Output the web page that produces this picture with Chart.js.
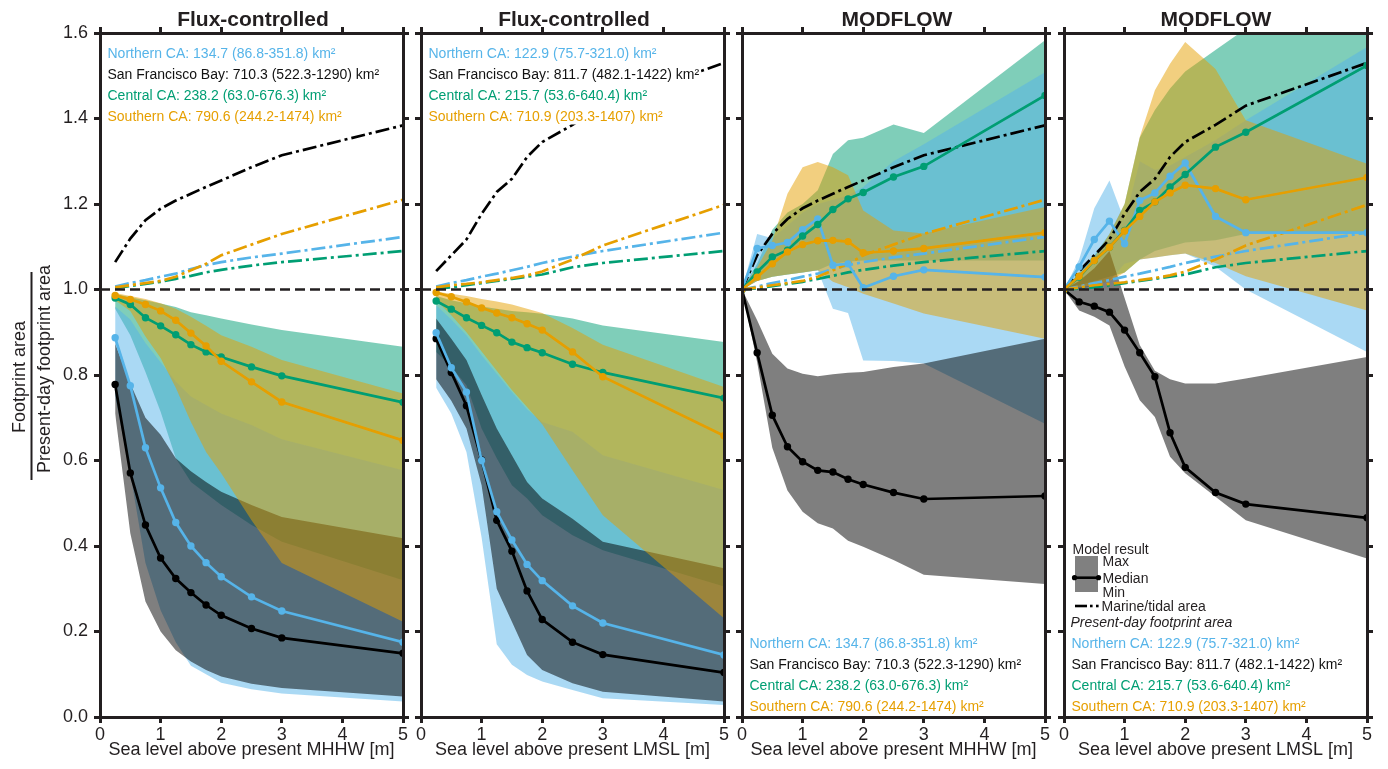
<!DOCTYPE html>
<html><head><meta charset="utf-8">
<script src="https://cdn.jsdelivr.net/npm/chart.js@4.4.0/dist/chart.umd.min.js"></script>
<style>
html,body{margin:0;padding:0;background:#fff;}
#wrap{position:relative;width:1388px;height:769px;overflow:hidden;background:#fff;}
canvas{position:absolute;left:0;top:0;}
</style></head><body>
<div id="wrap">
<canvas id="c1" width="1388" height="769"></canvas>
<canvas id="c2" width="1388" height="769"></canvas>
<canvas id="c3" width="1388" height="769"></canvas>
<canvas id="c4" width="1388" height="769"></canvas>
</div>
<script>
// ---------- axes / categories ----------
const xFlux = [0.25, 0.5, 0.75, 1, 1.25, 1.5, 1.75, 2, 2.5, 3, 5];
const xMod  = [0, 0.25, 0.5, 0.75, 1, 1.25, 1.5, 1.75, 2, 2.5, 3, 5];
const xTickValues = [0, 1, 2, 3, 4, 5];
const yTickValues = [0, 0.2, 0.4, 0.6, 0.8, 1.0, 1.2, 1.4, 1.6];
const refX = [0, 5];
const refY = [1, 1];

// ---------- Panel 1: Flux-controlled, MHHW ----------
const f1NorthMed = [0.887, 0.775, 0.63, 0.536, 0.455, 0.40, 0.361, 0.328, 0.281, 0.248, 0.175];
const f1NorthMax = [0.96, 0.93, 0.875, 0.83, 0.785, 0.75, 0.73, 0.71, 0.683, 0.65, 0.577];
const f1NorthMin = [0.75, 0.57, 0.36, 0.25, 0.175, 0.12, 0.10, 0.08, 0.065, 0.055, 0.036];
const f1SfMed = [0.778, 0.571, 0.449, 0.372, 0.324, 0.291, 0.262, 0.238, 0.207, 0.185, 0.149];
const f1SfMax = [0.873, 0.78, 0.70, 0.66, 0.605, 0.575, 0.55, 0.527, 0.496, 0.468, 0.418];
const f1SfMin = [0.71, 0.43, 0.27, 0.20, 0.156, 0.13, 0.11, 0.095, 0.078, 0.068, 0.048];
const f1CentralMed = [0.98, 0.965, 0.934, 0.915, 0.894, 0.871, 0.854, 0.842, 0.819, 0.798, 0.736];
const f1CentralMax = [0.99, 0.982, 0.975, 0.967, 0.959, 0.947, 0.94, 0.932, 0.918, 0.905, 0.866];
const f1CentralMin = [0.955, 0.893, 0.807, 0.714, 0.605, 0.55, 0.523, 0.496, 0.449, 0.41, 0.32];
const f1SouthMed = [0.986, 0.977, 0.965, 0.95, 0.928, 0.898, 0.868, 0.832, 0.784, 0.737, 0.647];
const f1SouthMax = [0.992, 0.985, 0.978, 0.968, 0.955, 0.936, 0.915, 0.893, 0.866, 0.835, 0.757];
const f1SouthMin = [0.975, 0.95, 0.89, 0.84, 0.77, 0.69, 0.62, 0.57, 0.46, 0.36, 0.223];
// marine / tidal area (MHHW)
const mhhwMarNorth   = [1.007, 1.015, 1.022, 1.03, 1.037, 1.048, 1.057, 1.064, 1.075, 1.084, 1.123];
const mhhwMarSf      = [1.064, 1.119, 1.162, 1.189, 1.208, 1.224, 1.24, 1.255, 1.286, 1.314, 1.384];
const mhhwMarCentral = [1.003, 1.008, 1.013, 1.018, 1.025, 1.032, 1.04, 1.046, 1.056, 1.064, 1.09];
const mhhwMarSouth   = [1.005, 1.01, 1.015, 1.02, 1.03, 1.045, 1.06, 1.08, 1.105, 1.13, 1.21];

// ---------- Panel 2: Flux-controlled, LMSL ----------
const f2NorthMed = [0.899, 0.817, 0.76, 0.60, 0.48, 0.414, 0.357, 0.319, 0.26, 0.22, 0.145];
const f2NorthMax = [0.963, 0.93, 0.893, 0.846, 0.803, 0.76, 0.72, 0.69, 0.667, 0.612, 0.531];
const f2NorthMin = [0.77, 0.71, 0.62, 0.42, 0.17, 0.122, 0.098, 0.083, 0.063, 0.044, 0.028];
const f2SfMed = [0.885, 0.806, 0.728, 0.601, 0.46, 0.388, 0.295, 0.228, 0.175, 0.146, 0.104];
const f2SfMax = [0.932, 0.885, 0.835, 0.753, 0.675, 0.612, 0.55, 0.511, 0.464, 0.41, 0.348];
const f2SfMin = [0.79, 0.74, 0.675, 0.542, 0.30, 0.223, 0.145, 0.11, 0.079, 0.059, 0.036];
const f2CentralMed = [0.973, 0.954, 0.934, 0.916, 0.899, 0.877, 0.864, 0.852, 0.825, 0.806, 0.746];
const f2CentralMax = [0.985, 0.975, 0.968, 0.96, 0.955, 0.95, 0.947, 0.943, 0.932, 0.916, 0.877];
const f2CentralMin = [0.854, 0.819, 0.776, 0.675, 0.605, 0.542, 0.511, 0.472, 0.425, 0.39, 0.305];
const f2SouthMed = [0.993, 0.983, 0.971, 0.957, 0.945, 0.934, 0.92, 0.905, 0.854, 0.796, 0.658];
const f2SouthMax = [0.995, 0.99, 0.985, 0.978, 0.972, 0.965, 0.955, 0.945, 0.91, 0.871, 0.772];
const f2SouthMin = [0.975, 0.94, 0.9, 0.855, 0.81, 0.765, 0.725, 0.685, 0.577, 0.472, 0.231];
// marine / tidal area (LMSL)
const lmslMarNorth   = [1.007, 1.015, 1.022, 1.03, 1.037, 1.045, 1.053, 1.062, 1.077, 1.09, 1.133];
const lmslMarSf      = [1.043, 1.08, 1.117, 1.177, 1.228, 1.259, 1.31, 1.345, 1.385, 1.43, 1.53];
const lmslMarCentral = [1.002, 1.005, 1.01, 1.015, 1.02, 1.025, 1.03, 1.035, 1.052, 1.062, 1.09];
const lmslMarSouth   = [1.005, 1.01, 1.013, 1.017, 1.022, 1.027, 1.033, 1.042, 1.07, 1.103, 1.198];
// MODFLOW panels start from the present-day value at 0 m
const mhhwMarNorth0   = [1.0, 1.007, 1.015, 1.022, 1.03, 1.037, 1.048, 1.057, 1.064, 1.075, 1.084, 1.123];
const mhhwMarSf0      = [1.0, 1.08, 1.13, 1.165, 1.19, 1.208, 1.224, 1.24, 1.255, 1.286, 1.314, 1.384];
const mhhwMarCentral0 = [1.0, 1.003, 1.008, 1.013, 1.018, 1.025, 1.032, 1.04, 1.046, 1.056, 1.064, 1.09];
const mhhwMarSouth0   = [1.0, 1.005, 1.01, 1.015, 1.02, 1.03, 1.045, 1.06, 1.08, 1.105, 1.13, 1.21];
const lmslMarNorth0   = [1.0, 1.007, 1.015, 1.022, 1.03, 1.037, 1.045, 1.053, 1.062, 1.077, 1.09, 1.133];
const lmslMarSf0      = [1.0, 1.043, 1.08, 1.117, 1.177, 1.228, 1.259, 1.31, 1.345, 1.385, 1.43, 1.53];
const lmslMarCentral0 = [1.0, 1.002, 1.005, 1.01, 1.015, 1.02, 1.025, 1.03, 1.035, 1.052, 1.062, 1.09];
const lmslMarSouth0   = [1.0, 1.005, 1.01, 1.013, 1.017, 1.022, 1.027, 1.033, 1.042, 1.07, 1.103, 1.198];

// ---------- Panel 3: MODFLOW, MHHW ----------
const m3NorthMed = [1.0, 1.096, 1.103, 1.11, 1.14, 1.165, 1.057, 1.06, 1.004, 1.031, 1.046, 1.029];
const m3NorthMax = [1.0, 1.13, 1.12, 1.15, 1.18, 1.2, 1.21, 1.22, 1.24, 1.30, 1.34, 1.508];
const m3NorthMin = [1.0, 1.02, 1.03, 1.035, 1.04, 1.045, 0.955, 0.945, 0.834, 0.833, 0.827, 0.686];
const m3SfMed = [1.0, 0.852, 0.706, 0.632, 0.597, 0.577, 0.573, 0.556, 0.544, 0.525, 0.51, 0.517];
const m3SfMax = [1.0, 0.928, 0.85, 0.815, 0.803, 0.797, 0.802, 0.805, 0.807, 0.819, 0.827, 0.885];
const m3SfMin = [1.0, 0.83, 0.63, 0.53, 0.48, 0.453, 0.441, 0.412, 0.398, 0.367, 0.333, 0.311];
const m3CentralMed = [1.0, 1.041, 1.076, 1.092, 1.125, 1.152, 1.187, 1.212, 1.227, 1.263, 1.288, 1.454];
const m3CentralMax = [1.0, 1.06, 1.14, 1.18, 1.2, 1.232, 1.317, 1.349, 1.355, 1.386, 1.366, 1.583];
const m3CentralMin = [1.0, 1.02, 1.03, 1.035, 1.04, 1.045, 1.06, 1.065, 1.068, 1.068, 1.068, 1.068];
const m3SouthMed = [1.0, 1.029, 1.06, 1.088, 1.105, 1.114, 1.115, 1.112, 1.086, 1.09, 1.096, 1.133];
const m3SouthMax = [1.0, 1.052, 1.114, 1.224, 1.286, 1.298, 1.286, 1.267, 1.185, 1.138, 1.131, 1.193];
const m3SouthMin = [1.0, 1.02, 1.03, 1.035, 1.04, 1.045, 1.018, 1.005, 0.99, 0.967, 0.944, 0.885];

// ---------- Panel 4: MODFLOW, LMSL ----------
const m4NorthMed = [1.0, 1.053, 1.117, 1.16, 1.107, 1.208, 1.226, 1.265, 1.296, 1.171, 1.133, 1.133];
const m4NorthMax = [1.0, 1.07, 1.19, 1.255, 1.16, 1.3, 1.28, 1.29, 1.31, 1.35, 1.396, 1.567];
const m4NorthMin = [1.0, 1.0, 1.01, 1.02, 1.06, 1.07, 1.075, 1.08, 1.084, 1.053, 1.0, 0.854];
const m4SfMed = [1.0, 0.971, 0.961, 0.947, 0.905, 0.852, 0.796, 0.665, 0.584, 0.525, 0.498, 0.466];
const m4SfMax = [1.0, 1.02, 1.05, 1.09, 0.98, 0.87, 0.81, 0.79, 0.78, 0.78, 0.792, 0.842];
const m4SfMin = [1.0, 0.951, 0.936, 0.916, 0.82, 0.741, 0.702, 0.609, 0.57, 0.515, 0.46, 0.371];
const m4CentralMed = [1.0, 1.029, 1.068, 1.099, 1.138, 1.185, 1.205, 1.24, 1.269, 1.333, 1.368, 1.524];
const m4CentralMax = [1.0, 1.04, 1.08, 1.13, 1.2, 1.355, 1.42, 1.47, 1.51, 1.56, 1.61, 1.65];
const m4CentralMin = [1.0, 1.01, 1.02, 1.03, 1.04, 1.07, 1.09, 1.1, 1.11, 1.115, 1.13, 1.13];
const m4SouthMed = [1.0, 1.031, 1.068, 1.099, 1.137, 1.171, 1.205, 1.226, 1.244, 1.236, 1.21, 1.262];
const m4SouthMax = [1.0, 1.03, 1.075, 1.13, 1.2, 1.357, 1.466, 1.528, 1.579, 1.516, 1.396, 1.294];
const m4SouthMin = [1.0, 1.005, 1.01, 1.02, 1.04, 1.07, 1.075, 1.08, 1.084, 1.062, 1.031, 0.951];

// ---------- texts ----------
const panelTitles = ['Flux-controlled', 'Flux-controlled', 'MODFLOW', 'MODFLOW'];
const xAxisTitles = ['Sea level above present MHHW [m]', 'Sea level above present LMSL [m]',
                     'Sea level above present MHHW [m]', 'Sea level above present LMSL [m]'];
const areaTextMHHW = ['Northern CA: 134.7 (86.8-351.8) km²', 'San Francisco Bay: 710.3 (522.3-1290) km²',
                      'Central CA: 238.2 (63.0-676.3) km²', 'Southern CA: 790.6 (244.2-1474) km²'];
const areaTextLMSL = ['Northern CA: 122.9 (75.7-321.0) km²', 'San Francisco Bay: 811.7 (482.1-1422) km²',
                      'Central CA: 215.7 (53.6-640.4) km²', 'Southern CA: 710.9 (203.3-1407) km²'];
const legendTexts = ['Model result', 'Max', 'Median', 'Min', 'Marine/tidal area', 'Present-day footprint area'];
const yTitleTop = 'Footprint area';
const yTitleBottom = 'Present-day footprint area';

// ---------- styling ----------
const INK = '#231F20';
const FONT = "'Liberation Sans', Arial, Helvetica, sans-serif";
const COL = {north: '#56B4E9', sf: '#000000', central: '#009E73', south: '#E69F00'};
const FILL = {north: 'rgba(86,180,233,0.5)', sf: 'rgba(0,0,0,0.5)', central: 'rgba(0,158,115,0.5)', south: 'rgba(230,159,0,0.5)'};
const AREA_COLORS = [COL.north, '#111111', COL.central, COL.south];
const TOP = 33, BOTTOM = 717, PW = 303, W = 1388, H = 769;

function pts(xs, ys) { return xs.map((x, i) => ({x: x, y: ys[i]})); }
function band(xs, max, min, key, order) {
  return [
    {data: pts(xs, max), borderWidth: 0, borderColor: 'rgba(0,0,0,0)', pointRadius: 0, fill: false, order: order, tension: 0},
    {data: pts(xs, min), borderWidth: 0, borderColor: 'rgba(0,0,0,0)', pointRadius: 0, fill: '-1', backgroundColor: FILL[key], order: order, tension: 0}
  ];
}
function median(xs, ys, key, order) {
  return {data: pts(xs, ys), borderColor: COL[key], borderWidth: 2.7, pointRadius: 3.7, pointHoverRadius: 3.7,
          pointBackgroundColor: COL[key], pointBorderWidth: 0, fill: false, order: order, tension: 0};
}
function marine(xs, ys, key, order) {
  return {data: pts(xs, ys), borderColor: COL[key], borderWidth: 2.7, borderDash: [14, 4, 3, 4], pointRadius: 0,
          fill: false, order: order, tension: 0};
}

const panels = [
  {id: 'c1', left: 100, titleX: 253, xs: xFlux, yLabels: true, texts: areaTextMHHW, textPos: 'top',
   n: [f1NorthMax, f1NorthMin, f1NorthMed], c: [f1CentralMax, f1CentralMin, f1CentralMed],
   s: [f1SfMax, f1SfMin, f1SfMed], o: [f1SouthMax, f1SouthMin, f1SouthMed],
   mar: [mhhwMarNorth, mhhwMarSf, mhhwMarCentral, mhhwMarSouth]},
  {id: 'c2', left: 421, titleX: 574, xs: xFlux, yLabels: false, texts: areaTextLMSL, textPos: 'top',
   n: [f2NorthMax, f2NorthMin, f2NorthMed], c: [f2CentralMax, f2CentralMin, f2CentralMed],
   s: [f2SfMax, f2SfMin, f2SfMed], o: [f2SouthMax, f2SouthMin, f2SouthMed],
   mar: [lmslMarNorth, lmslMarSf, lmslMarCentral, lmslMarSouth]},
  {id: 'c3', left: 742, titleX: 897, xs: xMod, yLabels: false, texts: areaTextMHHW, textPos: 'bottom',
   n: [m3NorthMax, m3NorthMin, m3NorthMed], c: [m3CentralMax, m3CentralMin, m3CentralMed],
   s: [m3SfMax, m3SfMin, m3SfMed], o: [m3SouthMax, m3SouthMin, m3SouthMed],
   mar: [mhhwMarNorth0, mhhwMarSf0, mhhwMarCentral0, mhhwMarSouth0]},
  {id: 'c4', left: 1064, titleX: 1216, xs: xMod, yLabels: false, texts: areaTextLMSL, textPos: 'bottom', legend: true,
   n: [m4NorthMax, m4NorthMin, m4NorthMed], c: [m4CentralMax, m4CentralMin, m4CentralMed],
   s: [m4SfMax, m4SfMin, m4SfMed], o: [m4SouthMax, m4SouthMin, m4SouthMed],
   mar: [lmslMarNorth0, lmslMarSf0, lmslMarCentral0, lmslMarSouth0]}
];

function textPlugin(p, idx) {
  return {
    id: 'txt' + idx,
    afterDatasetsDraw(chart) {
      const ctx = chart.ctx;
      ctx.save();
      ctx.font = '14px ' + FONT;
      ctx.textBaseline = 'alphabetic';
      ctx.textAlign = 'left';
      const base = p.textPos === 'top' ? [57.5, 78.5, 99.5, 120.5] : [647.5, 669, 690, 711];
      const x = p.left + 7.5;
      let maxW = 0;
      p.texts.forEach(t => { maxW = Math.max(maxW, ctx.measureText(t).width); });
      ctx.fillStyle = '#ffffff';
      ctx.fillRect(x - 2, base[0] - 13, maxW + 4, base[3] - base[0] + 17);
      p.texts.forEach((t, i) => { ctx.fillStyle = AREA_COLORS[i]; ctx.fillText(t, x, base[i]); });
      ctx.restore();
    },
    afterDraw(chart) {
      const ctx = chart.ctx;
      ctx.save();
      ctx.fillStyle = INK;
      ctx.font = 'bold 21px ' + FONT;
      ctx.textAlign = 'center';
      ctx.textBaseline = 'alphabetic';
      ctx.fillText(panelTitles[idx], p.titleX, 25.5);
      if (idx === 0) {
        ctx.font = '18px ' + FONT;
        ctx.save();
        ctx.translate(25, 377);
        ctx.rotate(-Math.PI / 2);
        ctx.textAlign = 'center';
        ctx.fillText(yTitleTop, 0, 0);
        ctx.restore();
        ctx.save();
        ctx.translate(49.5, 369);
        ctx.rotate(-Math.PI / 2);
        ctx.textAlign = 'center';
        ctx.fillText(yTitleBottom, 0, 0);
        ctx.restore();
        ctx.strokeStyle = INK;
        ctx.lineWidth = 2;
        ctx.beginPath();
        ctx.moveTo(31.5, 272);
        ctx.lineTo(31.5, 480);
        ctx.stroke();
      }
      if (p.legend) {
        const lx = 1072.5;
        ctx.textAlign = 'left';
        ctx.fillStyle = INK;
        ctx.font = '14px ' + FONT;
        ctx.fillText(legendTexts[0], lx, 553.5);
        ctx.fillStyle = '#808080';
        ctx.fillRect(1075, 556, 23, 36);
        ctx.fillStyle = INK;
        ctx.fillText(legendTexts[1], 1102.5, 566);
        ctx.fillText(legendTexts[2], 1102.5, 583);
        ctx.fillText(legendTexts[3], 1102.5, 597);
        ctx.strokeStyle = '#000';
        ctx.lineWidth = 2.6;
        ctx.beginPath(); ctx.moveTo(1074, 577.7); ctx.lineTo(1099, 577.7); ctx.stroke();
        ctx.fillStyle = '#000';
        [1074.5, 1098.5].forEach(cx => { ctx.beginPath(); ctx.arc(cx, 577.7, 2.6, 0, Math.PI * 2); ctx.fill(); });
        ctx.beginPath(); ctx.moveTo(1075, 606); ctx.lineTo(1087, 606); ctx.stroke();
        ctx.fillRect(1090, 604.7, 2.6, 2.6);
        ctx.fillRect(1096, 604.7, 2.6, 2.6);
        ctx.fillStyle = INK;
        ctx.fillText(legendTexts[4], 1101.5, 611);
        ctx.font = 'italic 14px ' + FONT;
        ctx.fillText(legendTexts[5], 1070.5, 627);
      }
      ctx.restore();
    }
  };
}

panels.forEach((p, idx) => {
  const xs = p.xs;
  const datasets = [];
  datasets.push({data: pts(refX, refY), borderColor: INK, borderWidth: 2.5, borderDash: [10, 5], pointRadius: 0, fill: false, order: 1});
  // fill stacking (bottom to top): central, north, SF Bay, southern
  datasets.push(...band(xs, p.c[0], p.c[1], 'central', 40));
  datasets.push(...band(xs, p.n[0], p.n[1], 'north', 30));
  datasets.push(...band(xs, p.s[0], p.s[1], 'sf', 20));
  datasets.push(...band(xs, p.o[0], p.o[1], 'south', 10));
  datasets.push(marine(xs, p.mar[2], 'central', 9));
  datasets.push(marine(xs, p.mar[0], 'north', 8));
  datasets.push(marine(xs, p.mar[3], 'south', 7));
  datasets.push(marine(xs, p.mar[1], 'sf', 6));
  datasets.push(median(xs, p.s[2], 'sf', 5));
  datasets.push(median(xs, p.n[2], 'north', 4));
  datasets.push(median(xs, p.c[2], 'central', 3));
  datasets.push(median(xs, p.o[2], 'south', 2));

  const gridOpt = () => ({drawOnChartArea: false, drawTicks: true, tickLength: 6, lineWidth: 3, color: INK, z: 1});
  const borderOpt = () => ({display: true, width: 3, color: INK, z: 1});
  const setX = s => { s.ticks = xTickValues.map(v => ({value: v})); };
  const setY = s => { s.ticks = yTickValues.map(v => ({value: v})); };
  const yW = p.yLabels ? 60 : 8;

  new Chart(document.getElementById(p.id), {
    type: 'line',
    data: {datasets: datasets},
    plugins: [textPlugin(p, idx)],
    options: {
      responsive: false, animation: false, devicePixelRatio: 1,
      events: [],
      layout: {padding: {left: p.left - yW, right: W - (p.left + PW) - 8, top: TOP - 8, bottom: H - BOTTOM - 44}},
      plugins: {legend: {display: false}, title: {display: false}, tooltip: {enabled: false}},
      scales: {
        x: {type: 'linear', position: 'bottom', min: 0, max: 5, afterBuildTicks: setX,
            grid: gridOpt(), border: borderOpt(),
            ticks: {color: INK, font: {family: FONT, size: 18}, padding: 1, maxRotation: 0, autoSkip: false},
            title: {display: true, text: xAxisTitles[idx], color: INK, font: {family: FONT, size: 18}, padding: {top: 0, bottom: 0}},
            afterFit: s => { s.height = 44; }},
        xTop: {type: 'linear', axis: 'x', position: 'top', min: 0, max: 5, afterBuildTicks: setX,
            grid: gridOpt(), border: borderOpt(), ticks: {display: false},
            afterFit: s => { s.height = 8; }},
        y: {type: 'linear', position: 'left', min: 0, max: 1.6, afterBuildTicks: setY,
            grid: gridOpt(), border: borderOpt(),
            ticks: {display: p.yLabels, color: INK, font: {family: FONT, size: 18}, padding: 6, autoSkip: false,
                    callback: v => Number(v).toFixed(1)},
            afterFit: s => { s.width = yW; }},
        yRight: {type: 'linear', axis: 'y', position: 'right', min: 0, max: 1.6, afterBuildTicks: setY,
            grid: gridOpt(), border: borderOpt(), ticks: {display: false},
            afterFit: s => { s.width = 8; }}
      }
    }
  });
});
</script>
</body></html>
